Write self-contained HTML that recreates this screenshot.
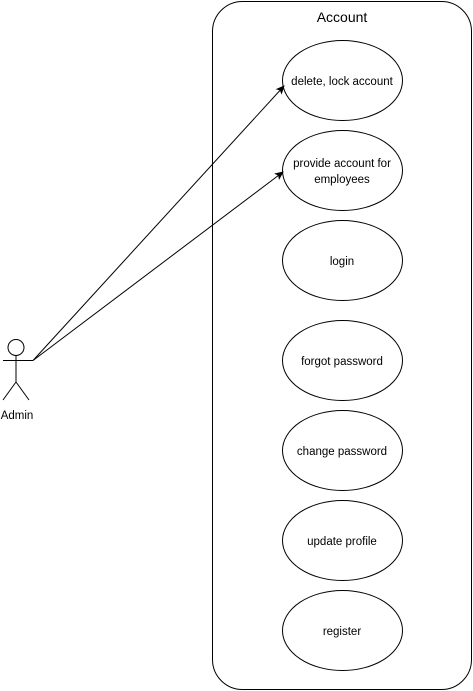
<!DOCTYPE html>
<html><head><style>html,body{margin:0;padding:0;background:#fff}svg{display:block}</style></head>
<body>
<svg width="473" height="691" viewBox="0 0 473 691" xmlns="http://www.w3.org/2000/svg" font-family="Liberation Sans, Arial, sans-serif">
<defs><marker id="a" markerWidth="10" markerHeight="10" refX="8" refY="4" orient="auto" markerUnits="userSpaceOnUse"><path d="M0,0 L9,4 L0,8 L2,4 z" fill="#000"/></marker></defs>
<rect x="212.5" y="1.5" width="259" height="688" rx="30" fill="#fff" stroke="#000"/>
<text x="342" y="22" font-size="14" text-anchor="middle">Account</text>
<g fill="#fff" stroke="#000">
<ellipse cx="342.5" cy="80.5" rx="60" ry="40"/>
<ellipse cx="342.5" cy="170.5" rx="60" ry="40"/>
<ellipse cx="342.5" cy="260.5" rx="60" ry="40"/>
<ellipse cx="342.5" cy="360.5" rx="60" ry="40"/>
<ellipse cx="342.5" cy="450.5" rx="60" ry="40"/>
<ellipse cx="342.5" cy="540.5" rx="60" ry="40"/>
<ellipse cx="342.5" cy="630.5" rx="60" ry="40"/>
</g>
<g font-size="11.5" text-anchor="middle">
<text x="342" y="85">delete, lock account</text>
<text x="342" y="167">provide account for</text>
<text x="342" y="183">employees</text>
<text x="342" y="265">login</text>
<text x="342" y="365">forgot password</text>
<text x="342" y="455">change password</text>
<text x="342" y="545">update profile</text>
<text x="342" y="635">register</text>
</g>
<g stroke="#000" fill="none">
<circle cx="16" cy="347.5" r="8"/>
<path d="M16 355.5V382M3 360.5H33M16 382L3 400M16 382L29 400"/>
<line x1="33" y1="360.5" x2="284" y2="86" marker-end="url(#a)"/>
<line x1="33" y1="360.5" x2="283" y2="172" marker-end="url(#a)"/>
</g>
<text x="17" y="419" font-size="11.5" text-anchor="middle">Admin</text>
</svg>
</body></html>
